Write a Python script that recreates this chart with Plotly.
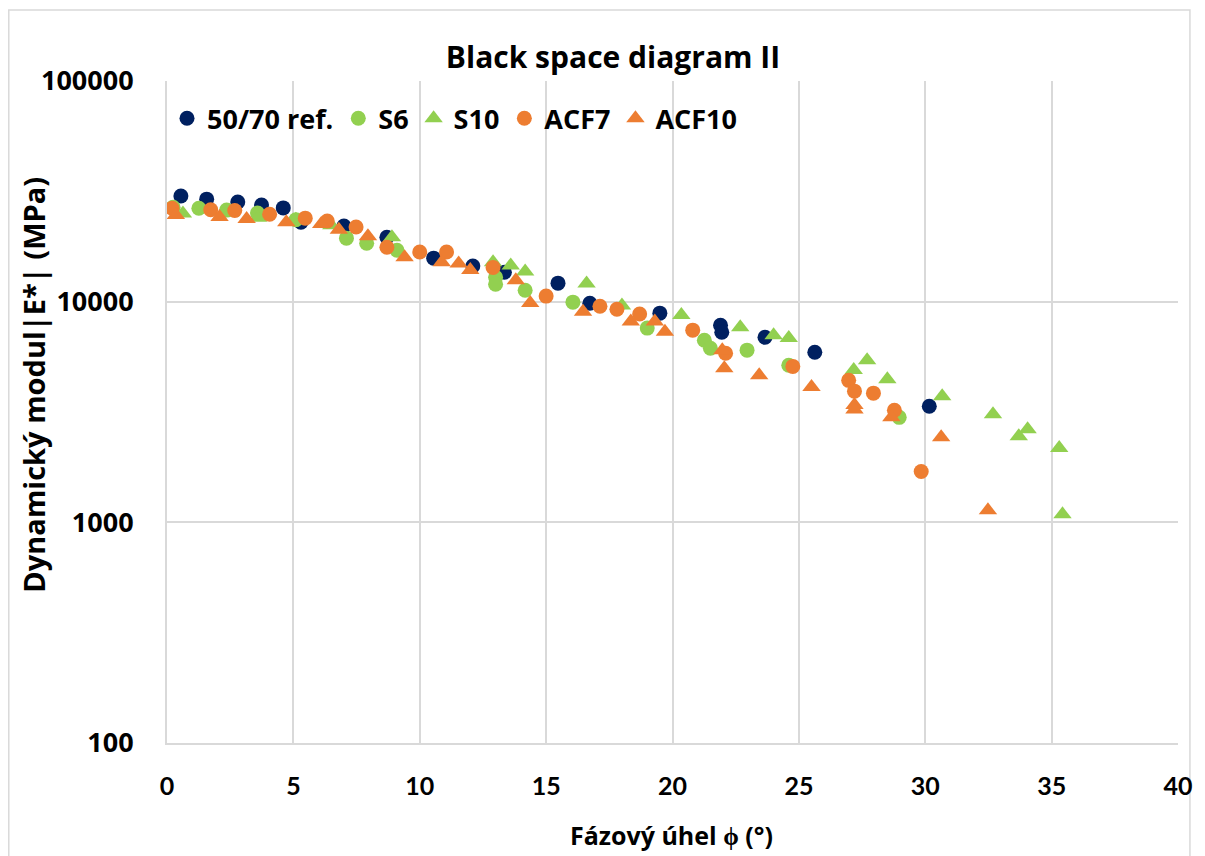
import plotly.graph_objects as go

# 50/70 ref.
ref_x = [0.55, 1.57, 2.8, 3.74, 4.6, 5.3, 7.0, 8.7, 10.55, 12.1, 13.35, 15.47, 16.73, 19.5, 21.9, 21.95, 23.66, 25.63, 30.16]
ref_y = [30100, 29150, 28300, 27400, 26600, 22900, 22000, 19600, 15750, 14500, 13600, 12130, 9840, 8870, 7820, 7270, 6900, 5900, 3360]

# S6
s6_x = [0.24, 1.26, 2.36, 3.58, 5.1, 7.1, 7.9, 9.1, 13.0, 13.0, 14.17, 16.06, 19.0, 21.26, 21.5, 22.95, 24.6, 28.97]
s6_y = [26800, 26500, 26000, 25200, 23500, 19400, 18400, 17100, 12900, 12000, 11270, 9950, 7590, 6690, 6150, 6030, 5150, 2990]

# S10
s10_x = [0.63, 2.5, 3.6, 5.1, 6.5, 8.9, 12.9, 13.6, 14.17, 16.6, 18.0, 20.35, 22.68, 24.0, 24.6, 27.17, 27.7, 28.5, 30.67, 32.68, 33.7, 34.05, 35.3, 35.43]
s10_y = [25100, 25300, 24000, 23500, 22200, 19600, 15100, 14600, 13700, 12100, 9620, 8700, 7660, 7050, 6850, 4900, 5430, 4450, 3730, 3090, 2455, 2640, 2170, 1087]

# ACF7
acf7_x = [0.2, 1.73, 2.68, 4.06, 5.47, 6.34, 7.48, 8.7, 10.0, 11.06, 12.9, 15.0, 17.13, 17.8, 18.7, 20.8, 22.1, 24.76, 26.97, 27.2, 27.95, 28.78, 29.84]
acf7_y = [26500, 26100, 25900, 24900, 23900, 23200, 21800, 17650, 16780, 16780, 14300, 10600, 9530, 9240, 8790, 7430, 5840, 5090, 4400, 3930, 3850, 3220, 1700]

# ACF10
acf10_x = [0.35, 2.08, 3.15, 4.72, 6.1, 6.8, 7.95, 9.4, 10.87, 11.54, 12.0, 13.8, 14.37, 16.46, 18.35, 19.3, 19.7, 21.97, 22.05, 23.43, 25.5, 27.2, 27.2, 28.66, 30.63, 32.48]
acf10_y = [24700, 24200, 23700, 22900, 22500, 21200, 19800, 15900, 15100, 14900, 13900, 12500, 9850, 9000, 8120, 8120, 7310, 6030, 4990, 4640, 4100, 3400, 3250, 2990, 2430, 1133]

x_ticks = [0, 5, 10, 15, 20, 25, 30, 35, 40]
y_ticks = [100, 1000, 10000, 100000]

NAVY = "#002060"
GREEN = "#92D050"
ORANGE = "#ED7D31"
WIDE = "Open Sans"
NARROW = "Lato"
GRID = "#D9D9D9"

series = [
    ("50/70 ref.", ref_x, ref_y, NAVY, "circle"),
    ("S6", s6_x, s6_y, GREEN, "circle"),
    ("S10", s10_x, s10_y, GREEN, "triangle-up"),
    ("ACF7", acf7_x, acf7_y, ORANGE, "circle"),
    ("ACF10", acf10_x, acf10_y, ORANGE, "triangle-up"),
]

fig = go.Figure()
for name, xs, ys, col, sym in series:
    fig.add_trace(go.Scatter(
        x=xs, y=ys, mode="markers", name=f"<b>{name}</b>",
        marker=dict(color=col, symbol=sym, size=15 if sym == "circle" else 16, line=dict(width=0)),
    ))

fig.update_layout(
    width=1205, height=856,
    margin=dict(l=167, r=22, t=81, b=113),
    paper_bgcolor="white", plot_bgcolor="white",
    font=dict(family=WIDE, size=22, color="#000000"),
    title=dict(text="<b>Black space diagram II</b>", x=613 / 1205, xanchor="center",
               y=1 - 57 / 856, yanchor="middle", font=dict(family=WIDE, size=30, color="#000000")),
    showlegend=True,
    legend=dict(orientation="h", x=0.0, y=0.98, xanchor="left", yanchor="top",
                bgcolor="rgba(0,0,0,0)", font=dict(family=WIDE, size=27, color="#000000"),
                itemwidth=30, tracegroupgap=0),
    xaxis=dict(range=[0, 40], tickvals=x_ticks, ticktext=[f"<b>{v}</b>" for v in x_ticks],
               showgrid=True, gridcolor=GRID, gridwidth=2,
               showline=True, linecolor=GRID, linewidth=2, zeroline=False, ticks="",
               ticklabelstandoff=20,
               tickfont=dict(family=NARROW, size=25, color="#000000")),
    yaxis=dict(type="log", range=[2, 5], tickvals=y_ticks,
               ticktext=[f"<b>{v}</b>" for v in y_ticks],
               showgrid=True, gridcolor=GRID, gridwidth=2,
               showline=True, linecolor=GRID, linewidth=2, zeroline=False, ticks="",
               ticklabelstandoff=26,
               tickfont=dict(family=WIDE, size=27, color="#000000")),
)

# axis titles
fig.add_annotation(text="<b>Fázový úhel ϕ (°)</b>", xref="paper", yref="paper",
                   x=(674 - 167) / 1016, y=(743 - 835) / 662, xanchor="center", yanchor="middle",
                   showarrow=False, font=dict(family=WIDE, size=25, color="#000000"))
fig.add_annotation(text="<b>Dynamický modul|E*| (MPa)</b>", xref="paper", yref="paper",
                   x=(33 - 167) / 1016, y=(743 - 385) / 662, xanchor="center", yanchor="middle",
                   textangle=-90, showarrow=False, font=dict(family=WIDE, size=29, color="#000000"))

fig.add_shape(type="rect", xref="paper", yref="paper",
              x0=-159 / 1016, x1=1 + 12 / 1016, y0=-125 / 662, y1=1 + 71 / 662,
              line=dict(color=GRID, width=1.5), fillcolor="rgba(0,0,0,0)", layer="below")

fig.write_html("out.html")
